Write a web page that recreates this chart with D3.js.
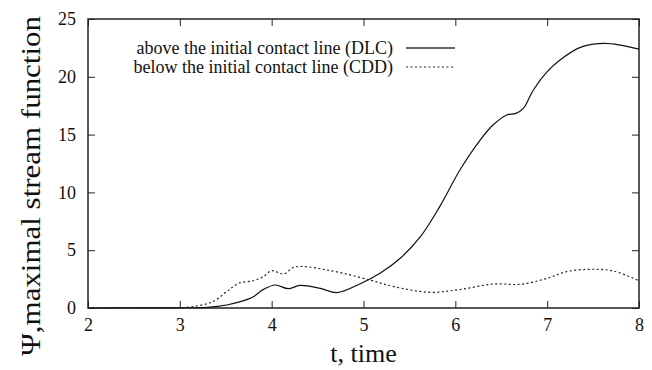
<!DOCTYPE html>
<html>
<head>
<meta charset="utf-8">
<script src="https://cdn.jsdelivr.net/npm/d3@7/dist/d3.min.js"></script>
<style>
  html, body { margin: 0; padding: 0; background: #fff; }
  svg { display: block; }
  svg text { font-family: "Liberation Serif", "Times New Roman", serif; fill: #111; }
</style>
</head>
<body>
<svg id="chart" width="652" height="370" font-family="Liberation Serif, serif"></svg>
<script>
// Maximal stream function over time, above and below the initial contact line
const timeDLC = [2, 2.5, 3, 3.3, 3.51, 3.66, 3.8, 3.91, 4.04, 4.18, 4.31, 4.53, 4.71, 4.96, 5.18, 5.4, 5.62, 5.83, 6.05, 6.27, 6.41, 6.56, 6.66, 6.74, 6.85, 7.0, 7.14, 7.36, 7.63, 8.0];
const psiDLC  = [0, 0.02, 0.02, 0.06, 0.26, 0.55, 0.98, 1.61, 1.99, 1.67, 1.96, 1.7, 1.33, 2.08, 3.0, 4.3, 6.17, 8.77, 11.94, 14.53, 15.83, 16.7, 16.84, 17.27, 18.86, 20.44, 21.45, 22.55, 22.9, 22.4];

const timeCDD = [2, 2.5, 3, 3.18, 3.36, 3.51, 3.64, 3.8, 3.91, 4.0, 4.13, 4.24, 4.38, 4.56, 4.78, 5.07, 5.33, 5.72, 6.05, 6.42, 6.71, 7.0, 7.21, 7.47, 7.72, 8.0];
const psiCDD  = [0, 0, 0, 0.17, 0.55, 1.41, 2.13, 2.36, 2.71, 3.23, 2.94, 3.52, 3.57, 3.35, 3.0, 2.42, 1.85, 1.36, 1.6, 2.08, 2.05, 2.57, 3.14, 3.35, 3.2, 2.36];

const xTicks = [2, 3, 4, 5, 6, 7, 8];
const yTicks = [0, 5, 10, 15, 20, 25];
const legendLabels = ["above the initial contact line (DLC)", "below the initial contact line (CDD)"];

const svg = d3.select("#chart");
const m = { left: 88, top: 19, right: 639, bottom: 308 };

const x = d3.scaleLinear().domain([2, 8]).range([m.left, m.right]);
const y = d3.scaleLinear().domain([0, 25]).range([m.bottom, m.top]);

const axisColor = "#222";
const tickLen = 7;

// frame
svg.append("rect")
  .attr("x", m.left).attr("y", m.top)
  .attr("width", m.right - m.left).attr("height", m.bottom - m.top)
  .attr("fill", "none").attr("stroke", axisColor).attr("stroke-width", 1.5);

// inward ticks on all four sides
const bottomAxis = d3.axisBottom(x).tickValues(xTicks).tickSize(-tickLen).tickPadding(10).tickFormat(d3.format("d"));
const topAxis = d3.axisTop(x).tickValues(xTicks).tickSize(-tickLen).tickFormat("");
const leftAxis = d3.axisLeft(y).tickValues(yTicks).tickSize(-tickLen).tickPadding(12).tickFormat(d3.format("d"));
const rightAxis = d3.axisRight(y).tickValues(yTicks).tickSize(-tickLen).tickFormat("");

function styleAxis(g) {
  g.attr("font-family", null).attr("font-size", null);
  g.select(".domain").remove();
  g.selectAll(".tick line").attr("stroke", axisColor).attr("stroke-width", 1);
  g.selectAll(".tick text")
    .attr("font-size", 18)
    .attr("fill", "#111");
}

svg.append("g").attr("transform", `translate(0,${m.bottom})`).call(bottomAxis).call(styleAxis);
svg.append("g").attr("transform", `translate(0,${m.top})`).call(topAxis).call(styleAxis);
svg.append("g").attr("transform", `translate(${m.left},0)`).call(leftAxis).call(styleAxis);
svg.append("g").attr("transform", `translate(${m.right},0)`).call(rightAxis).call(styleAxis);

// series lines
const line = d3.line().x(d => x(d[0])).y(d => y(d[1])).curve(d3.curveCatmullRom.alpha(0.5));

svg.append("path")
  .datum(d3.zip(timeDLC, psiDLC))
  .attr("d", line)
  .attr("fill", "none").attr("stroke", "#111").attr("stroke-width", 1.2);

svg.append("path")
  .datum(d3.zip(timeCDD, psiCDD))
  .attr("d", line)
  .attr("fill", "none").attr("stroke", "#222").attr("stroke-width", 1.2)
  .attr("stroke-dasharray", "2,2.5");

// legend
const legend = svg.append("g");
const legendY = [48, 67];
legendLabels.forEach((lab, i) => {
  legend.append("text")
    .attr("x", 393).attr("y", legendY[i] + 6)
    .attr("text-anchor", "end")
    .attr("font-size", 18)
    .text(lab);
  legend.append("line")
    .attr("x1", 406).attr("x2", 455)
    .attr("y1", legendY[i]).attr("y2", legendY[i])
    .attr("stroke", i === 0 ? "#333" : "#222")
    .attr("stroke-width", i === 0 ? 1.4 : 1.1)
    .attr("stroke-dasharray", i === 0 ? null : "2,2.5");
});

// axis titles
svg.append("text")
  .attr("x", (m.left + m.right) / 2).attr("y", 362)
  .attr("text-anchor", "middle")
  .attr("font-size", 26)
  .text("t, time");

svg.append("text")
  .attr("transform", "translate(40,186) rotate(-90)")
  .attr("text-anchor", "middle")
  .attr("font-size", 28)
  .attr("textLength", 340)
  .attr("lengthAdjust", "spacingAndGlyphs")
  .text("Ψ,maximal stream function");
</script>
</body>
</html>
